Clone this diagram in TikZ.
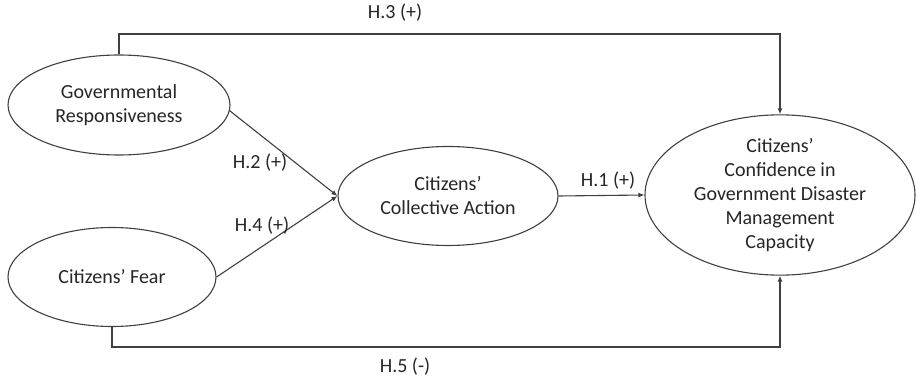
\documentclass[tikz,border=0pt]{standalone}
\usepackage{fontspec}
\setmainfont{Carlito}
\usetikzlibrary{shapes.geometric,arrows.meta}
\begin{document}
\begin{tikzpicture}[x=1pt,y=-1pt,
  every node/.style={font=\fontsize{20}{24}\selectfont, text=black!85},
  var/.style={ellipse, draw=black!75, line width=1.1pt, inner sep=0pt, align=center},
  conn/.style={draw=black!75, line width=1.1pt, -{Latex[length=6pt,width=5pt]}},
  lab/.style={font=\fontsize{20}{24}\selectfont}]
\useasboundingbox[fill=white] (0,0) rectangle (917,379);
\node[var, minimum width=222pt, minimum height=100pt] (gr) at (119,105) {Governmental\\Responsiveness};
\node[var, minimum width=208pt, minimum height=99pt] (fear) at (112,277) {Citizens’ Fear};
\node[var, minimum width=220pt, minimum height=99pt] (ca) at (448,196) {Citizens’\\Collective Action};
\node[var, minimum width=270pt, minimum height=126pt] (conf) at (780,195) {Citizens’\\Confidence in\\Government Disaster\\Management\\Capacity};
\coordinate (t1) at (119,34);
\coordinate (t2) at (780,34);
\coordinate (b1) at (112,347);
\coordinate (b2) at (780,347);
\draw[conn] (gr.north) -- (t1) -- (t2) -- (conf.north);
\draw[conn] (fear.south) -- (b1) -- (b2) -- (conf.south);
\draw[conn] (gr.-3) -- (ca.west);
\draw[conn] (fear.0) -- (ca.west);
\draw[conn] (ca.east) -- (conf.west);
\node[lab] (h3) at (395,13) {H.3 (+)};
\node[lab] (h5) at (405,367) {H.5 (-)};
\node[lab] (h2) at (260,163) {H.2 (+)};
\node[lab] (h4) at (262,226) {H.4 (+)};
\node[lab] (h1) at (608,181) {H.1 (+)};
\end{tikzpicture}
\end{document}
